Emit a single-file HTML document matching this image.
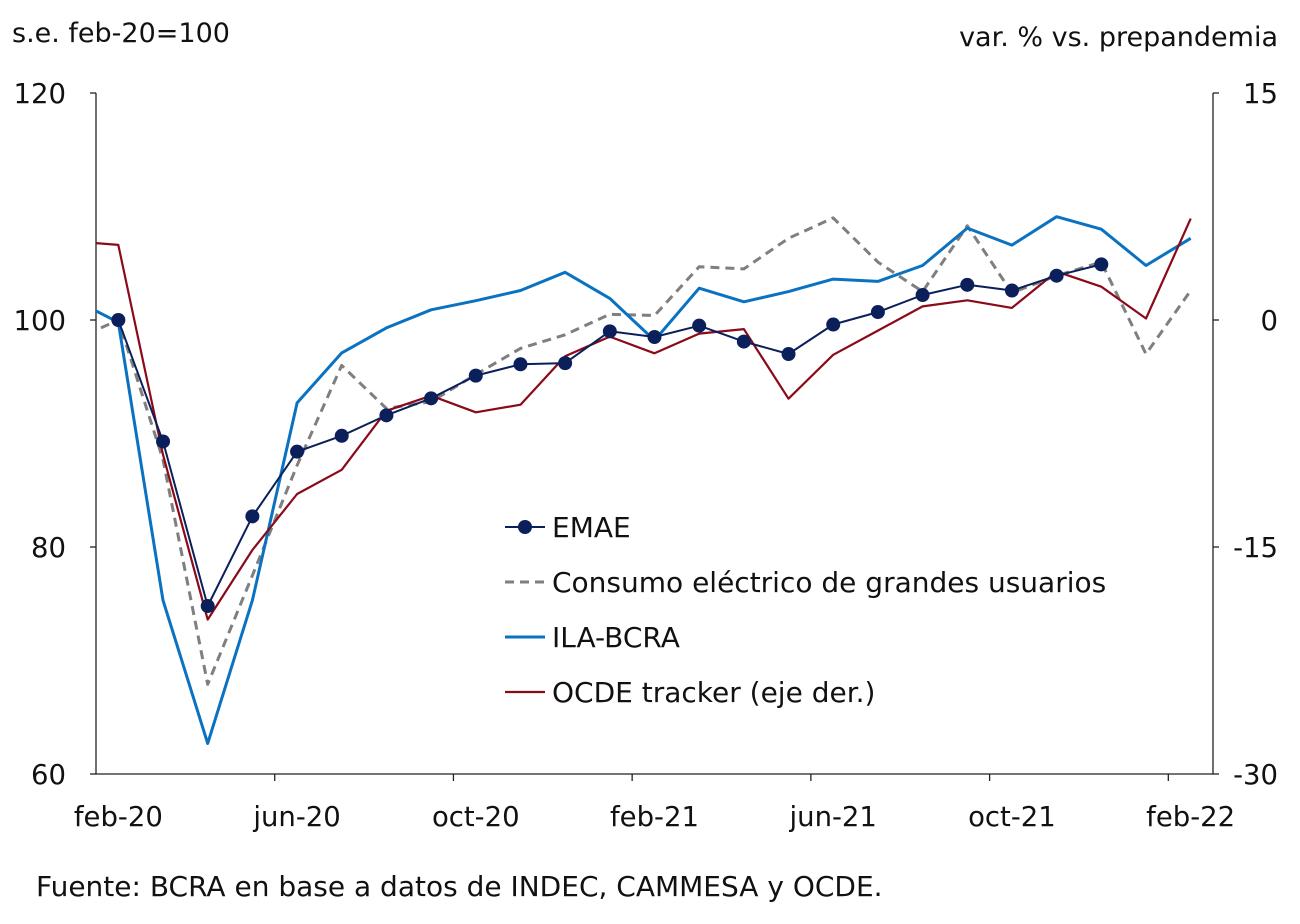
<!DOCTYPE html>
<html><head><meta charset="utf-8"><style>
body{margin:0;background:#fff;}
svg text{font-family:"DejaVu Sans","Liberation Sans",sans-serif;fill:#111;}
</style></head><body>
<svg id="chart" width="1300" height="919" viewBox="0 0 1300 919">
<text x="12" y="42" font-size="27">s.e. feb-20=100</text>
<text x="1278" y="46" font-size="27" text-anchor="end">var. % vs. prepandemia</text>
<text x="36" y="896" font-size="28">Fuente: BCRA en base a datos de INDEC, CAMMESA y OCDE.</text>
<g id="axes"></g>
<defs><clipPath id="clip"><rect x="96" y="60" width="1117" height="740"/></clipPath></defs>
<g id="series" clip-path="url(#clip)"></g>
<g id="markers"></g>
<g id="legend"></g>
</svg>
<script>
// data: index 0 = jan-20, 1 = feb-20 ... 25 = feb-22
const months = ["ene-20","feb-20","mar-20","abr-20","may-20","jun-20","jul-20","ago-20","sep-20","oct-20","nov-20","dic-20","ene-21","feb-21","mar-21","abr-21","may-21","jun-21","jul-21","ago-21","sep-21","oct-21","nov-21","dic-21","ene-22","feb-22"];
const xTickLabels = ["feb-20","jun-20","oct-20","feb-21","jun-21","oct-21","feb-22"];
const leftTicks = [60,80,100,120];
const rightTicks = [-30,-15,0,15];
const emae = [null,100,89.3,74.8,82.7,88.4,89.8,91.6,93.1,95.1,96.1,96.2,99.0,98.5,99.5,98.1,97.0,99.6,100.7,102.2,103.1,102.6,103.9,104.9,null,null];
const electrico = [98.2,100,87.7,67.9,77.5,87.2,96.0,92.2,92.8,95.2,97.5,98.7,100.5,100.4,104.7,104.5,107.2,109.0,105.1,102.5,108.3,102.4,103.9,105.1,97.0,102.6];
const ila = [101.8,99.8,75.3,62.7,75.3,92.7,97.1,99.3,100.9,101.7,102.6,104.2,101.9,98.2,102.8,101.6,102.5,103.6,103.4,104.8,108.1,106.6,109.1,108.0,104.8,107.2];
const ocde = [5.2,4.96,-8.9,-19.8,-15.2,-11.5,-9.9,-6.0,-5.0,-6.1,-5.6,-2.4,-1.1,-2.2,-0.9,-0.6,-5.2,-2.3,-0.7,0.9,1.3,0.8,3.2,2.2,0.1,6.7];

const NS="http://www.w3.org/2000/svg";
const X0=96,X1=1213,Y0=774,Y1=93,band=(X1-X0)/25;
const x=i=>X0+(i-0.5)*band;
const yL=v=>Y0-(v-60)/60*(Y0-Y1);
const yR=v=>Y0-(v+30)/45*(Y0-Y1);
function mk(tag,attrs,parent){const e=document.createElementNS(NS,tag);for(const k in attrs)e.setAttribute(k,attrs[k]);parent.appendChild(e);return e;}
const axes=document.getElementById('axes');
let e;
e=mk('path',{d:`M${X0} ${Y1}V${Y0}H${X1}V${Y1}`,stroke:'#222','stroke-width':1.3,fill:'none'},axes);


leftTicks.forEach(v=>{
  e=mk('line',{x1:X0-6,x2:X0,y1:yL(v),y2:yL(v),stroke:'#222','stroke-width':1.3},axes);
  
  
  e=mk('text',{x:66,y:yL(v)+10,'font-size':27.5,'text-anchor':'end'},axes);e.textContent=v;
  
  
});
rightTicks.forEach(v=>{
  e=mk('line',{x1:X1,x2:X1+6,y1:yR(v),y2:yR(v),stroke:'#222','stroke-width':1.3},axes);
  
  
  e=mk('text',{x:1278,y:yR(v)+10,'font-size':27.5,'text-anchor':'end'},axes);e.textContent=v;
  
  
});
xTickLabels.forEach((lab,k)=>{
  const i=1+4*k;
  const tx=X0+(i-1)*band;
  if(k>0){e=mk('line',{x1:tx,x2:tx,y1:Y0,y2:Y0+7,stroke:'#222','stroke-width':1.3},axes);
  
  }
  e=mk('text',{x:x(i),y:826,'font-size':27.5,'text-anchor':'middle'},axes);e.textContent=lab;
  
  
});
const ser=document.getElementById('series');
function line(arr,yf,style,name){
  let d='';arr.forEach((v,i)=>{if(v==null)return;d+=(d?'L':'M')+x(i).toFixed(1)+' '+yf(v).toFixed(1);});
  const p=mk('path',Object.assign({d:d,fill:'none','stroke-linejoin':'round'},style),ser);
  
  
}
line(electrico,yL,{stroke:'#7f7f7f','stroke-width':3,'stroke-dasharray':'9 6'},'electrico-line');
line(ila,yL,{stroke:'#0a72c1','stroke-width':3},'ila-line');
line(ocde,yR,{stroke:'#8b0a1a','stroke-width':2.2},'ocde-line');
line(emae,yL,{stroke:'#0b1f5b','stroke-width':2},'emae-line');
const mg=document.getElementById('markers');
emae.forEach((v,i)=>{if(v==null)return;
  e=mk('circle',{cx:x(i),cy:yL(v),r:7,fill:'#0b1f5b'},mg);
  
  
});
const lg=document.getElementById('legend');
const items=[["EMAE",{stroke:'#0b1f5b','stroke-width':2},true],["Consumo eléctrico de grandes usuarios",{stroke:'#7f7f7f','stroke-width':3,'stroke-dasharray':'9 6'},false],["ILA-BCRA",{stroke:'#0a72c1','stroke-width':3},false],["OCDE tracker (eje der.)",{stroke:'#8b0a1a','stroke-width':2.2},false]];
items.forEach((it,k)=>{
  const y=527+k*55;
  e=mk('line',Object.assign({x1:505,x2:545,y1:y,y2:y},it[1]),lg);
  
  
  if(it[2]){e=mk('circle',{cx:525,cy:y,r:7,fill:'#0b1f5b'},lg);
  
  }
  e=mk('text',{x:552,y:y+10,'font-size':28},lg);e.textContent=it[0];
  
  
});
</script>
</body></html>
